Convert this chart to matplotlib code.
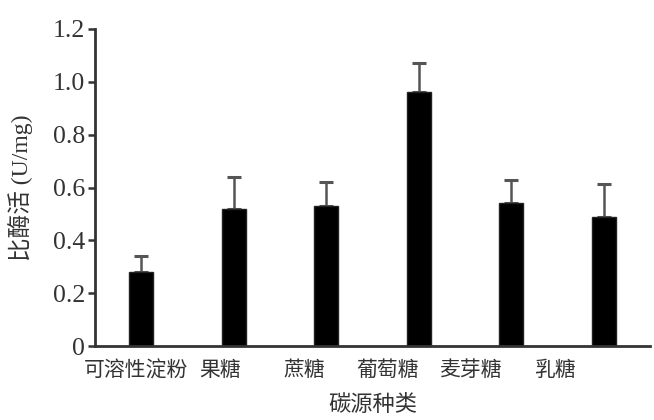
import numpy as np
import matplotlib
matplotlib.use('Agg')
import matplotlib.pyplot as plt
from matplotlib.ticker import FuncFormatter

plt.rcParams['font.family'] = ['Liberation Serif', 'Noto Sans CJK SC']

# data
categories = ['可溶性淀粉', '果糖', '蔗糖', '葡萄糖', '麦芽糖', '乳糖']
activity = [0.28, 0.52, 0.53, 0.96, 0.54, 0.49]
errors = [0.06, 0.12, 0.09, 0.11, 0.09, 0.125]

x = np.arange(len(categories))
# labels in the original sit a bit left of the bars
label_pos = x * 0.905 - 0.05

fig = plt.figure(figsize=(6.54, 4.2), dpi=100)
ax = fig.add_axes([0.145, 0.176, 0.849, 0.755])

ax.bar(x, activity, width=0.26, color='black', edgecolor='#222222', linewidth=1, zorder=2)
ax.errorbar(x, activity, yerr=[np.zeros(len(errors)), errors], fmt='none',
            ecolor='#555555', elinewidth=1.8, capsize=5, capthick=2.2, zorder=1)

ax.set_xlim(-0.5, 5.5)
ax.set_ylim(0, 1.2)
ax.set_yticks(np.arange(0, 1.21, 0.2))
ax.yaxis.set_major_formatter(FuncFormatter(lambda v, p: '0' if abs(v) < 1e-9 else '%.1f' % v))
ax.set_xticks(label_pos)
ax.set_xticklabels(categories, fontsize=15, color='#333333')
ax.tick_params(axis='x', length=0, pad=11)
ax.tick_params(axis='y', length=5, width=1.8, labelsize=18.5, colors='#333333', pad=2)

for s in ['top', 'right']:
    ax.spines[s].set_visible(False)
for s in ['left', 'bottom']:
    ax.spines[s].set_linewidth(2)
    ax.spines[s].set_color('#333333')

ax.set_ylabel('比酶活 (U/mg)', fontsize=17, color='#333333', labelpad=14)
ax.set_xlabel('碳源种类', fontsize=16, color='#333333', labelpad=10)

fig.savefig('out.png', dpi=100, facecolor='white')
